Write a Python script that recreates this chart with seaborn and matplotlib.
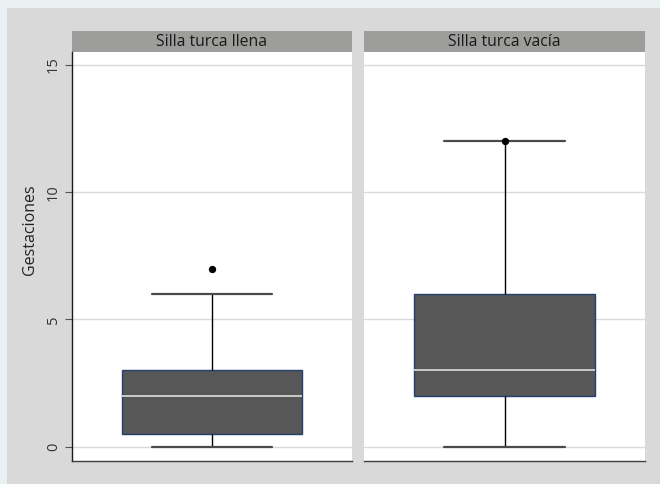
import matplotlib
matplotlib.use("Agg")
import matplotlib.pyplot as plt
from matplotlib.patches import Rectangle
import numpy as np
import pandas as pd
import seaborn as sns

# Number of gestations per patient, by sella turcica group
grupos = ["Silla turca llena", "Silla turca vacía"]
gest_llena = [0, 0, 0, 1, 1, 2, 2, 3, 3, 6, 7]
gest_vacia = [0, 1, 2, 2, 3, 4, 6, 9, 12]
# Values flagged as atypical (marked with a dot)
atipicos_llena = [7]
atipicos_vacia = [12]
yticks = [0, 5, 10, 15]
ylabel = "Gestaciones"

df = pd.DataFrame({
    "grupo": [grupos[0]] * len(gest_llena) + [grupos[1]] * len(gest_vacia),
    "gestaciones": gest_llena + gest_vacia,
})
atip = pd.DataFrame({
    "grupo": [grupos[0]] * len(atipicos_llena) + [grupos[1]] * len(atipicos_vacia),
    "gestaciones": atipicos_llena + atipicos_vacia,
})

sns.set_theme(style="white")
plt.rcParams["font.family"] = ["Open Sans", "DejaVu Sans"]

W, H = 660, 484
fig = plt.figure(figsize=(W / 100, H / 100), dpi=100)
fig.patch.set_facecolor("#eaf1f2")
fig.patches.append(Rectangle((7 / W, 0), 1, 1 - 8 / H, transform=fig.transFigure,
                             facecolor="#d9d9d9", edgecolor="none", zorder=-10))

bottom = (H - 461) / H
height = (461 - 52) / H
ax_pos = [(72 / W, bottom, 280 / W, height), (364 / W, bottom, 281 / W, height)]

for i, (g, pos) in enumerate(zip(grupos, ax_pos)):
    ax = fig.add_axes(pos)
    ax.set_facecolor("white")
    sub = df[df["grupo"] == g]
    sns.boxplot(
        data=sub, x="grupo", y="gestaciones", ax=ax, width=0.643,
        showfliers=False, color="#575757", capwidths=0.43,
        boxprops=dict(facecolor="#575757", edgecolor="#23406f", linewidth=1.0),
        medianprops=dict(color="#d4d4d4", linewidth=1.3),
        whiskerprops=dict(color="black", linewidth=1.0),
        capprops=dict(color="#4a4a4a", linewidth=1.6),
    )
    sub_a = atip[atip["grupo"] == g]
    sns.scatterplot(data=sub_a, x="grupo", y="gestaciones", ax=ax,
                    color="black", s=28, linewidth=0, zorder=5)
    ax.set_xlim(-0.5, 0.5)
    ax.set_ylim(-0.56, 15.51)
    ax.set_yticks(yticks)
    ax.yaxis.grid(True, color="#d9d9d9", linewidth=1.0)
    ax.set_axisbelow(True)
    ax.set_xticks([])
    ax.set_xlabel("")
    for s in ["top", "right"]:
        ax.spines[s].set_visible(False)
    ax.spines["bottom"].set_color("#3c3c3c")
    ax.spines["bottom"].set_linewidth(1.0)
    if i == 0:
        ax.spines["left"].set_color("#1a1a1a")
        ax.spines["left"].set_linewidth(1.0)
        ax.tick_params(axis="y", left=True, length=5, width=0.8, color="#555555",
                       labelsize=10.5, labelcolor="#333333", pad=3)
        for lab in ax.get_yticklabels():
            lab.set_rotation(90)
            lab.set_va("center")
        ax.set_ylabel(ylabel, fontsize=11.5, color="#222222")
        ax.yaxis.set_label_coords(-34 / 280, (461 - 230) / (461 - 52))
    else:
        ax.spines["left"].set_visible(False)
        ax.tick_params(axis="y", left=False, labelleft=False)
        ax.set_ylabel("")
    # panel header strip
    ax.add_patch(Rectangle((0, 1.0), 1, 21 / (461 - 52), transform=ax.transAxes,
                           facecolor="#9d9d9b", edgecolor="none", clip_on=False))
    ax.text(0.5, 1.0 + 10.5 / (461 - 52), g, transform=ax.transAxes,
            ha="center", va="center", fontsize=11.3, color="#1a1a1a")

fig.savefig("out.png", dpi=100, facecolor=fig.get_facecolor())
